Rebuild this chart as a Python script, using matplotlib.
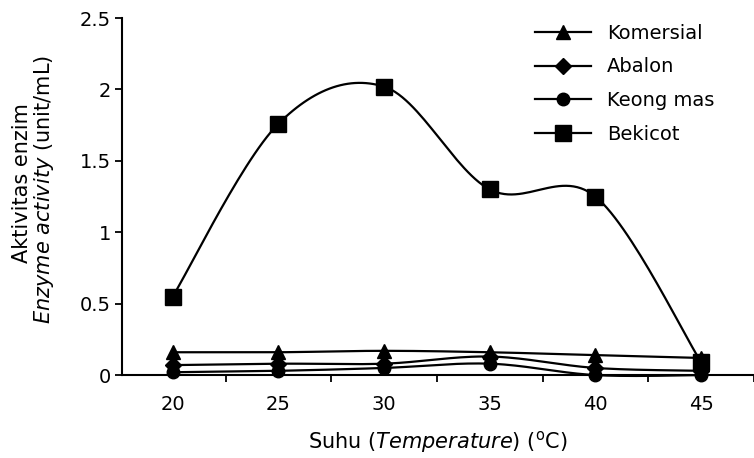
import numpy as np
import matplotlib
matplotlib.use('Agg')
import matplotlib.pyplot as plt
from matplotlib.lines import Line2D

plt.rcParams['font.family'] = 'DejaVu Sans'
plt.rcParams['mathtext.fontset'] = 'dejavusans'

# Data
suhu = [20, 25, 30, 35, 40, 45]
komersial = [0.16, 0.16, 0.17, 0.16, 0.14, 0.12]
abalon = [0.07, 0.08, 0.08, 0.13, 0.05, 0.03]
keong_mas = [0.02, 0.03, 0.05, 0.08, 0.00, 0.00]
bekicot = [0.55, 1.76, 2.02, 1.30, 1.25, 0.09]

series = [
    ('Komersial', komersial, '^', 10),
    ('Abalon', abalon, 'D', 8),
    ('Keong mas', keong_mas, 'o', 9),
    ('Bekicot', bekicot, 's', 11),
]


def smooth_line(x, y, n=30):
    # Excel-style smoothed line (Bezier through the points)
    x = np.asarray(x, float)
    y = np.asarray(y, float)
    px = np.concatenate([[x[0]], x, [x[-1]]])
    py = np.concatenate([[y[0]], y, [y[-1]]])
    t = np.linspace(0, 1, n)
    xs, ys = [], []
    for i in range(1, len(px) - 2):
        p0 = np.array([px[i - 1], py[i - 1]])
        p1 = np.array([px[i], py[i]])
        p2 = np.array([px[i + 1], py[i + 1]])
        p3 = np.array([px[i + 2], py[i + 2]])
        c1 = p1 + (p2 - p0) / 6
        c2 = p2 - (p3 - p1) / 6
        b = ((1 - t) ** 3)[:, None] * p1 + (3 * (1 - t) ** 2 * t)[:, None] * c1 \
            + (3 * (1 - t) * t ** 2)[:, None] * c2 + (t ** 3)[:, None] * p2
        xs.extend(b[:, 0])
        ys.extend(b[:, 1])
    return np.array(xs), np.array(ys)


fig = plt.figure(figsize=(7.54, 4.58), dpi=100)
ax = fig.add_axes([0.1618, 0.181, 0.8382, 0.7795])

handles = []
for name, vals, mk, ms in series:
    sx, sy = smooth_line(suhu, vals)
    ax.plot(sx, sy, color='black', lw=1.6, clip_on=False)
    ax.plot(suhu, vals, linestyle='none', marker=mk, ms=ms, color='black', clip_on=False)
    handles.append(Line2D([], [], color='black', lw=1.6, marker=mk, ms=ms, label=name))

ax.set_xlim(17.6, 47.5)
ax.set_ylim(0, 2.5)
ax.set_xticks(suhu)
ax.set_xticks([22.5, 27.5, 32.5, 37.5, 42.5, 47.5], minor=True)
ax.tick_params(axis='x', which='major', length=0, pad=14, labelsize=14)
ax.tick_params(axis='x', which='minor', length=5, width=1.3, direction='out')
ax.set_yticks([0, 0.5, 1, 1.5, 2, 2.5])
ax.set_yticklabels(['0', '0.5', '1', '1.5', '2', '2.5'])
ax.tick_params(axis='y', length=5, width=1.3, direction='out', pad=3, labelsize=14)

for s in ['top', 'right']:
    ax.spines[s].set_visible(False)
for s in ['left', 'bottom']:
    ax.spines[s].set_linewidth(1.5)

fig.text(0.029, 0.60, 'Aktivitas enzim', rotation=90, ha='center', va='center', fontsize=15)
fig.text(0.058, 0.587, r'$\it{Enzyme\ activity}$ (unit/mL)', rotation=90,
         ha='center', va='center', fontsize=15)
fig.text(0.58, 0.035, r'Suhu ($\it{Temperature}$) ($^{\mathrm{o}}$C)', ha='center',
         va='center', fontsize=15)

ax.legend(handles=handles, loc='upper left', bbox_to_anchor=(0.686, 0.986),
          bbox_transform=fig.transFigure, frameon=False, fontsize=14,
          handlelength=2.9, handletextpad=0.8, labelspacing=0.75)

fig.savefig('out.png', dpi=100)
